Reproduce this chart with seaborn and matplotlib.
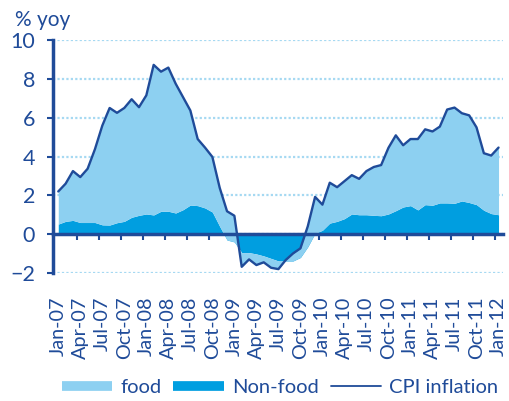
import matplotlib
matplotlib.use("Agg")
import matplotlib.pyplot as plt
import seaborn as sns
import numpy as np
from matplotlib.lines import Line2D

# monthly, Jan-07 .. Jan-12 (% yoy)
cpi = [2.2, 2.6, 3.25, 2.94, 3.37, 4.38, 5.59, 6.5, 6.25, 6.5,
       6.95, 6.54, 7.15, 8.72, 8.37, 8.58, 7.75, 7.06, 6.37, 4.9,
       4.46, 3.98, 2.39, 1.18, 0.95, -1.68, -1.3, -1.59, -1.45, -1.73,
       -1.8, -1.33, -0.99, -0.73, 0.4, 1.92, 1.52, 2.65, 2.42, 2.73,
       3.04, 2.85, 3.25, 3.46, 3.56, 4.45, 5.09, 4.58, 4.9, 4.9,
       5.4, 5.29, 5.54, 6.42, 6.52, 6.23, 6.12, 5.5, 4.17, 4.05,
       4.46]
non_food = [0.52, 0.66, 0.71, 0.6, 0.6, 0.6, 0.48, 0.47, 0.59, 0.66,
            0.87, 0.97, 1.04, 0.99, 1.18, 1.18, 1.09, 1.26, 1.5, 1.47,
            1.35, 1.14, 0.4, -0.3, -0.4, -0.95, -0.95, -1.02, -1.12, -1.25,
            -1.38, -1.38, -1.38, -1.2, -0.65, 0.05, 0.2, 0.57, 0.66, 0.8,
            1.04, 1.0, 1.0, 0.97, 0.95, 1.04, 1.21, 1.4, 1.47, 1.25,
            1.52, 1.49, 1.61, 1.61, 1.59, 1.71, 1.63, 1.52, 1.23, 1.06,
            1.0]
food = [1.68, 1.94, 2.54, 2.34, 2.77, 3.78, 5.11, 6.03, 5.66, 5.84,
        6.08, 5.57, 6.11, 7.73, 7.19, 7.4, 6.66, 5.8, 4.87, 3.43,
        3.11, 2.84, 1.99, 1.48, 1.35, -0.73, -0.35, -0.57, -0.33, -0.48,
        -0.42, 0.05, 0.39, 0.47, 1.05, 1.87, 1.32, 2.08, 1.76, 1.93,
        2.0, 1.85, 2.25, 2.49, 2.61, 3.41, 3.88, 3.18, 3.43, 3.65,
        3.88, 3.8, 3.93, 4.81, 4.93, 4.52, 4.49, 3.98, 2.94, 2.99,
        3.46]
tick_labels = ["Jan-07", "Apr-07", "Jul-07", "Oct-07", "Jan-08", "Apr-08",
               "Jul-08", "Oct-08", "Jan-09", "Apr-09", "Jul-09", "Oct-09",
               "Jan-10", "Apr-10", "Jul-10", "Oct-10", "Jan-11", "Apr-11",
               "Jul-11", "Oct-11", "Jan-12"]

LIGHT = "#8dd0f1"
DARK = "#009ee0"
NAVY = "#1f4b99"
GRID = "#a6d9f2"

sns.set_style("white")
plt.rcParams["font.family"] = ["Lato", "DejaVu Sans"]

fig = plt.figure(figsize=(5.09, 4.01), dpi=100)
ax = fig.add_axes([0.1041, 0.3192, 0.884, 0.581])

x = np.arange(len(cpi))
nf = np.array(non_food)
fd = np.array(food)
ax.fill_between(x, 0, nf, color=DARK, lw=0, zorder=2)
ax.fill_between(x, nf, nf + fd, color=LIGHT, lw=0, zorder=3)
sns.lineplot(x=x, y=cpi, ax=ax, color=NAVY, lw=1.7, zorder=4)

ax.set_xlim(-0.72, 60.6)
ax.set_ylim(-2, 10)
ax.set_yticks(range(-2, 11, 2))
ax.set_axisbelow(True)
ax.yaxis.grid(True, color=GRID, ls=(0, (1, 1)), lw=1.6)

for s in ["top", "right"]:
    ax.spines[s].set_visible(False)
ax.spines["bottom"].set_position(("data", 0))
ax.spines["bottom"].set_color(NAVY)
ax.spines["bottom"].set_linewidth(2.5)
ax.spines["bottom"].set_zorder(5)
ax.spines["left"].set_color(NAVY)
ax.spines["left"].set_linewidth(2.5)

ax.set_xticks(range(0, 61, 3))
ax.set_xticklabels(tick_labels, rotation=90)
ax.set_xticks(np.arange(2.5, 60, 3), minor=True)
ax.tick_params(axis="x", which="major", length=0, pad=45,
               labelsize=14.3, labelcolor=NAVY)
ax.tick_params(axis="x", which="minor", bottom=True, length=4.5, width=1.5,
               color=NAVY, direction="out")
ax.tick_params(axis="y", left=True, length=4, width=1.5, color=NAVY,
               labelsize=15.5, labelcolor=NAVY, pad=9)

fig.text(0.03, 0.95, "% yoy", fontsize=15, color=NAVY, va="center")

handles = [
    Line2D([], [], color=LIGHT, lw=7, solid_capstyle="butt"),
    Line2D([], [], color=DARK, lw=7, solid_capstyle="butt"),
    Line2D([], [], color=NAVY, lw=1.3),
]
fig.legend(handles, ["food", "Non-food", "CPI inflation"], loc="center",
           bbox_to_anchor=(0.55, 0.033), ncol=3, frameon=False, fontsize=14.5,
           handlelength=2.5, handletextpad=0.4, columnspacing=0.6,
           labelcolor=NAVY)

fig.savefig("out.png", dpi=100)
